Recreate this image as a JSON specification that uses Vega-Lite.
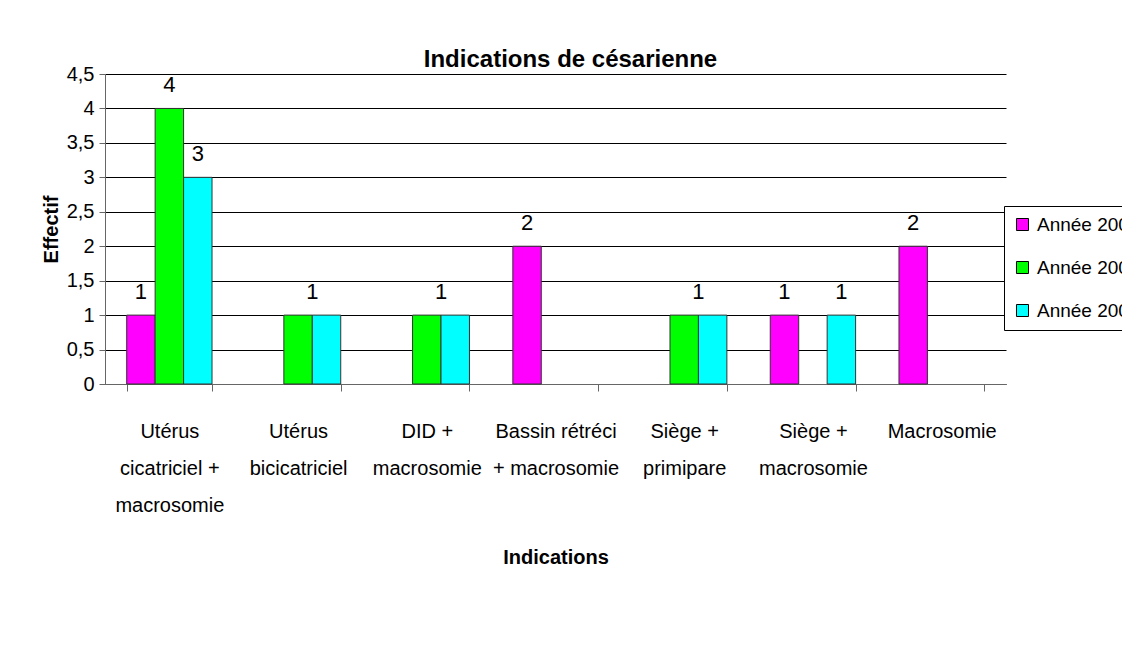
{
  "$schema": "https://vega.github.io/schema/vega-lite/v6.json",
  "autosize": {"type": "none"},
  "width": 901,
  "height": 310,
  "padding": {"left": 105, "top": 74, "right": 116, "bottom": 271},
  "background": "white",
  "config": {
    "view": {"stroke": null},
    "font": "Liberation Sans"
  },
  "title": {
    "text": "Indications de césarienne",
    "frame": "group",
    "anchor": "middle",
    "baseline": "alphabetic",
    "offset": -27,
    "dx": 15,
    "fontSize": 24,
    "font": "Liberation Sans",
    "fontWeight": "bold",
    "color": "black"
  },
  "datasets": {
    "effectifs": [
      {"Indication": "Utérus\ncicatriciel +\nmacrosomie", "Année": "Année 2005", "Effectif": 1},
      {"Indication": "Utérus\ncicatriciel +\nmacrosomie", "Année": "Année 2006", "Effectif": 4},
      {"Indication": "Utérus\ncicatriciel +\nmacrosomie", "Année": "Année 2007", "Effectif": 3},
      {"Indication": "Utérus\nbicicatriciel", "Année": "Année 2006", "Effectif": 1},
      {"Indication": "Utérus\nbicicatriciel", "Année": "Année 2007", "Effectif": 1},
      {"Indication": "DID +\nmacrosomie", "Année": "Année 2006", "Effectif": 1},
      {"Indication": "DID +\nmacrosomie", "Année": "Année 2007", "Effectif": 1},
      {"Indication": "Bassin rétréci\n+ macrosomie", "Année": "Année 2005", "Effectif": 2},
      {"Indication": "Siège +\nprimipare", "Année": "Année 2006", "Effectif": 1},
      {"Indication": "Siège +\nprimipare", "Année": "Année 2007", "Effectif": 1},
      {"Indication": "Siège +\nmacrosomie", "Année": "Année 2005", "Effectif": 1},
      {"Indication": "Siège +\nmacrosomie", "Année": "Année 2007", "Effectif": 1},
      {"Indication": "Macrosomie", "Année": "Année 2005", "Effectif": 2}
    ],
    "etiquettes": [
      {"Indication": "Utérus\ncicatriciel +\nmacrosomie", "Position": "Année 2005", "Effectif": 1},
      {"Indication": "Utérus\ncicatriciel +\nmacrosomie", "Position": "Année 2006", "Effectif": 4},
      {"Indication": "Utérus\ncicatriciel +\nmacrosomie", "Position": "Année 2007", "Effectif": 3},
      {"Indication": "Utérus\nbicicatriciel", "Position": "Années 2006-2007", "Effectif": 1},
      {"Indication": "DID +\nmacrosomie", "Position": "Années 2006-2007", "Effectif": 1},
      {"Indication": "Bassin rétréci\n+ macrosomie", "Position": "Année 2005", "Effectif": 2},
      {"Indication": "Siège +\nprimipare", "Position": "Années 2006-2007", "Effectif": 1},
      {"Indication": "Siège +\nmacrosomie", "Position": "Année 2005", "Effectif": 1},
      {"Indication": "Siège +\nmacrosomie", "Position": "Année 2007", "Effectif": 1},
      {"Indication": "Macrosomie", "Position": "Année 2005", "Effectif": 2}
    ]
  },
  "encoding": {
    "x": {
      "field": "Indication",
      "type": "nominal",
      "scale": {
        "domain": ["Utérus\ncicatriciel +\nmacrosomie", "Utérus\nbicicatriciel", "DID +\nmacrosomie", "Bassin rétréci\n+ macrosomie", "Siège +\nprimipare", "Siège +\nmacrosomie", "Macrosomie"],
        "paddingInner": 0.337,
        "paddingOuter": 0.1685
      },
      "title": "Indications",
      "axis": {
        "labelAngle": 0,
        "labelExpr": "split(datum.label, '\\n')",
        "labelLineHeight": 37,
        "labelBaseline": "top",
        "labelPadding": 30,
        "labelFontSize": 20,
        "labelColor": "black",
        "labelOverlap": false,
        "tickBand": "extent",
        "tickSize": 7,
        "tickColor": "#666666",
        "domainColor": "#666666",
        "grid": false,
        "titleFontSize": 20,
        "titleFontWeight": "bold",
        "titleColor": "black",
        "titlePadding": 32
      }
    },
    "y": {
      "field": "Effectif",
      "type": "quantitative",
      "scale": {"domain": [0, 4.5], "nice": false},
      "title": "Effectif",
      "axis": {
        "values": [0, 0.5, 1, 1.5, 2, 2.5, 3, 3.5, 4, 4.5],
        "labelExpr": "replace(format(datum.value, '.1~f'), '.', ',')",
        "labelOverlap": false,
        "labelFontSize": 20,
        "labelColor": "black",
        "labelPadding": 5,
        "tickSize": 6,
        "tickColor": "#666666",
        "domainColor": "#666666",
        "grid": true,
        "gridColor": "#000000",
        "gridOpacity": 1,
        "titleFontSize": 20,
        "titleFontWeight": "bold",
        "titleColor": "black",
        "titlePadding": 5
      }
    }
  },
  "layer": [
    {
      "data": {"name": "effectifs"},
      "mark": {"type": "bar", "stroke": "#333333", "strokeWidth": 1},
      "encoding": {
        "xOffset": {
          "field": "Année",
          "type": "nominal",
          "scale": {"domain": ["Année 2005", "Année 2006", "Année 2007"]}
        },
        "color": {
          "field": "Année",
          "type": "nominal",
          "scale": {"domain": ["Année 2005", "Année 2006", "Année 2007"], "range": ["#FF00FF", "#00FF00", "#00FFFF"]},
          "legend": {
            "orient": "none",
            "legendX": 899,
            "legendY": 132,
            "title": null,
            "symbolType": "square",
            "symbolSize": 144,
            "symbolStrokeColor": "black",
            "symbolStrokeWidth": 1,
            "symbolOpacity": 1,
            "labelFontSize": 19,
            "labelColor": "black",
            "labelOffset": 5,
            "labelLimit": 0,
            "strokeColor": "black",
            "fillColor": "white",
            "padding": 9,
            "rowPadding": 23
          }
        }
      }
    },
    {
      "data": {"name": "etiquettes"},
      "mark": {"type": "text", "baseline": "alphabetic", "dy": -16, "fontSize": 22, "color": "black"},
      "encoding": {
        "xOffset": {
          "field": "Position",
          "type": "nominal",
          "scale": {"type": "point", "padding": 1, "domain": ["Année 2005", "Années 2005-2006", "Année 2006", "Années 2006-2007", "Année 2007"]}
        },
        "text": {"field": "Effectif", "type": "quantitative"}
      }
    }
  ],
  "resolve": {"scale": {"xOffset": "independent"}}
}
